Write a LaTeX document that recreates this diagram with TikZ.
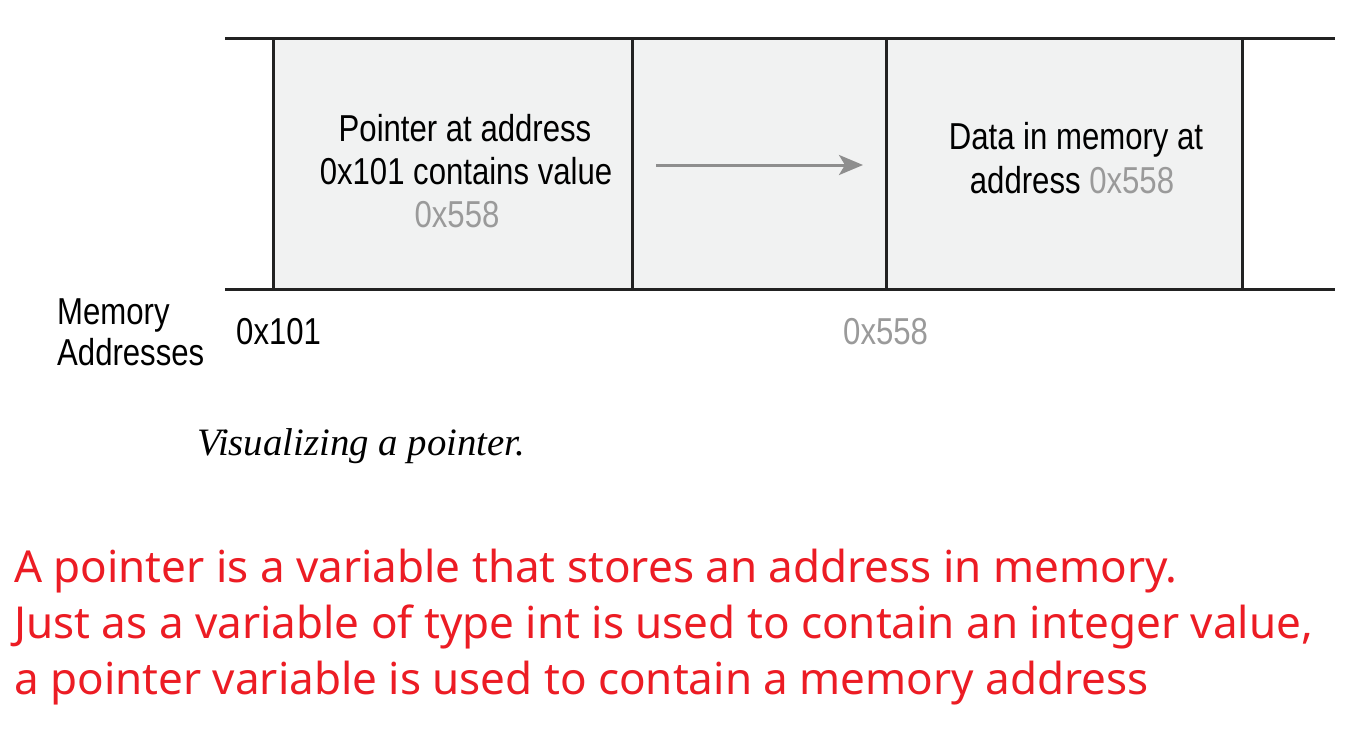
\documentclass[tikz,border=0pt]{standalone}
\usepackage{fontspec}
\usetikzlibrary{arrows.meta}
\newfontfamily\helv[FakeStretch=0.83]{Liberation Sans}
\newfontfamily\capfont{Liberation Serif}
\newfontfamily\redfont{Noto Sans}
\definecolor{cellgray}{HTML}{F1F2F2}
\definecolor{linedark}{HTML}{222222}
\definecolor{addrgray}{HTML}{9A9A9A}
\definecolor{arrowgray}{HTML}{8E8E8E}
\definecolor{notered}{RGB}{236,28,36}
\tikzset{
  diag/.style={inner sep=0pt, anchor=base, font=\helv\fontsize{37.5}{43}\selectfont, text=black},
  diagl/.style={diag, anchor=base west},
  redline/.style={inner sep=0pt, anchor=base west, font=\redfont\fontsize{44}{56}\selectfont, text=notered},
  memline/.style={line width=3pt, draw=linedark},
}
\begin{document}
\begin{tikzpicture}[x=1pt,y=-1pt]
\useasboundingbox (0,0) rectangle (1360,739);
\fill[white] (0,0) rectangle (1360,739);
% cells
\fill[cellgray] (273,38) rectangle (1242,289);
\draw[memline] (225,38) -- (1335,38);
\draw[memline] (225,289) -- (1335,289);
\foreach \xx in {273,632,886,1242} \draw[memline] (\xx,38) -- (\xx,289);
% texts in cells
\node[diag] (p1) at (465,141) {Pointer at address};
\node[diag] (p2) at (466,184) {0x101 contains value};
\node[diag, text=addrgray] (p3) at (457,227) {0x558};
\node[diag] (d1) at (1076,149) {Data in memory at};
\node[diag] (d2) at (1072,193) {address \textcolor{addrgray}{0x558}};
% arrow
\coordinate (as) at (656,165);
\coordinate (ae) at (863,165);
\draw[arrowgray, line width=3pt, -{Stealth[length=24pt,width=20pt,inset=6pt]}] (as) -- (ae);
% addresses
\node[diagl] (m1) at (57,324) {Memory};
\node[diagl] (m2) at (57,365) {Addresses};
\node[diagl] (a1) at (236,344) {0x101};
\node[diagl, text=addrgray] (a2) at (843,344) {0x558};
% caption
\node[inner sep=0pt, anchor=base west, font=\capfont\itshape\fontsize{38.8}{44}\selectfont] (cap) at (197,455) {Visualizing a pointer.};
% red notes
\node[redline] (r1) at (14,582) {A pointer is a variable that stores an address in memory.};
\node[redline] (r2) at (14,638) {Just as a variable of type int is used to contain an integer value,};
\node[redline] (r3) at (14,694) {a pointer variable is used to contain a memory address};
\end{tikzpicture}
\end{document}
